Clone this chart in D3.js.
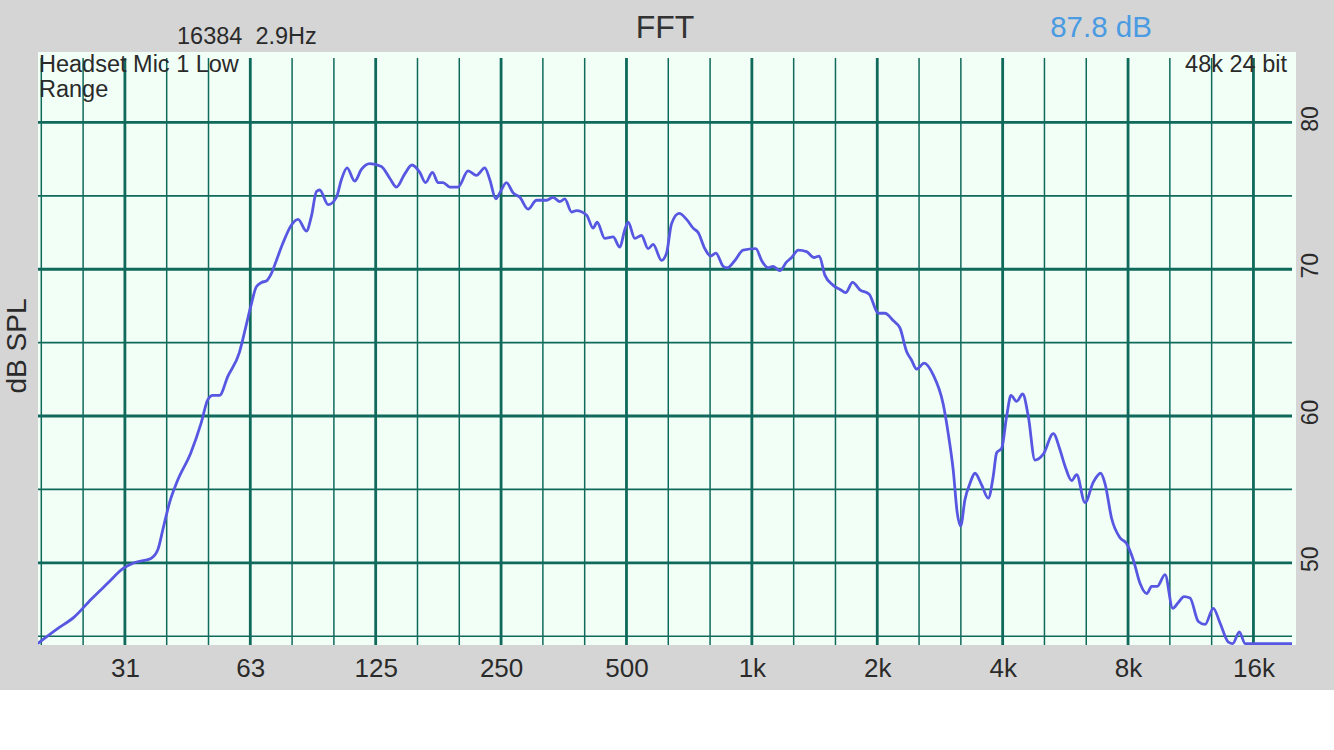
<!DOCTYPE html>
<html>
<head>
<meta charset="utf-8">
<script src="https://cdn.jsdelivr.net/npm/d3@7"></script>
<style>
  html, body { margin: 0; padding: 0; background: #ffffff; }
  svg { display: block; }
  text { font-family: "Liberation Sans", Arial, Helvetica, sans-serif; }
</style>
</head>
<body>
<svg id="chart" width="1334" height="750"></svg>
<script>
// ---- data ----
const freqHz = [19.3, 21.5, 23.6, 25.9, 28.4, 30.9, 32.9, 36.1, 37.5, 38.5,
  40.0, 41.8, 45.0, 47.6, 49.4, 50.8, 52.7, 55.2, 58.8, 61.0,
  62.7, 64.6, 66.5, 68.3, 70.2, 72.2, 74.9, 78.4, 81.4, 85.2,
  87.6, 90.1, 91.7, 96.1, 100.6, 103.4, 106.7, 111.3, 115.5, 121.0,
  129.0, 135.1, 140.2, 146.8, 152.8, 159.5, 164.6, 171.1, 176.5, 181.4,
  188.3, 197.1, 208.3, 218.2, 228.5, 234.9, 242.8, 248.2, 257.6, 267.2,
  277.3, 290.3, 304.1, 321.4, 333.3, 345.9, 355.6, 369.0, 379.3, 400.9,
  415.8, 425.1, 443.6, 464.4, 482, 495.4, 504.6, 523.7, 543.4, 563.6,
  579.4, 606.9, 624.0, 641.4, 669.0, 696.9, 722.9, 743.1, 771.1, 795.9,
  819.6, 853.3, 872.4, 910.4, 953.0, 1022, 1055, 1094, 1125, 1167,
  1212, 1246, 1292, 1353, 1409, 1451, 1497, 1568, 1633, 1679,
  1745, 1817, 1913, 2011, 2086, 2184, 2267, 2352, 2418, 2486,
  2593, 2725, 2880, 2961, 3044, 3112, 3171, 3247, 3338, 3432,
  3562, 3694, 3797, 3869, 3978, 4090, 4188, 4322, 4468, 4608,
  4782, 5007, 5292, 5491, 5645, 5858, 6022, 6306, 6602, 6877,
  7043, 7309, 7652, 7940, 8236, 8546, 8870, 9118, 9404, 9814,
  10242, 10562, 10902, 11269, 11798, 12243, 12818, 13302, 13926, 14270,
  14800, 15274, 15990, 19808];

const levelDb = [44.5, 45.5, 46.3, 47.5, 48.6, 49.6, 50.0, 50.3, 50.9, 52.2,
  54.1, 55.6, 57.5, 59.5, 61.1, 61.4, 61.4, 62.7, 64.3, 66.1,
  67.5, 68.8, 69.1, 69.2, 69.7, 70.6, 71.8, 73.0, 73.4, 72.6,
  73.6, 75.3, 75.4, 74.4, 74.9, 76.1, 76.9, 76.0, 76.8, 77.2,
  77.0, 76.2, 75.6, 76.5, 77.1, 76.6, 75.9, 76.6, 75.9, 75.9,
  75.6, 75.6, 76.7, 76.4, 76.9, 76.1, 74.8, 75.2, 75.9, 75.2,
  74.9, 74.1, 74.7, 74.7, 74.9, 74.6, 74.8, 73.9, 74.0, 73.7,
  72.8, 73.2, 72.1, 72.2, 71.5, 72.7, 73.2, 72.1, 72.3, 71.4,
  71.7, 70.6, 71.1, 73.1, 73.8, 73.4, 72.8, 72.5, 71.4, 70.9,
  71.1, 70.2, 70.1, 70.6, 71.3, 71.4, 70.6, 70.1, 70.2, 69.9,
  70.5, 70.8, 71.3, 71.2, 70.8, 70.9, 69.6, 68.9, 68.6, 68.4,
  69.1, 68.6, 68.3, 67.0, 67.0, 66.5, 66.0, 64.4, 63.8, 63.2,
  63.6, 62.8, 60.8, 58.8, 56.3, 53.4, 52.5, 54.3, 55.4, 56.1,
  55.3, 54.4, 55.9, 57.5, 57.8, 60.0, 61.4, 61.0, 61.5, 60.0,
  57.0, 57.4, 58.8, 57.7, 56.6, 55.6, 56.0, 54.1, 55.5, 56.1,
  55.4, 53.0, 51.7, 51.3, 50.2, 48.6, 47.9, 48.4, 48.4, 49.2,
  46.9, 47.3, 47.7, 47.6, 46.0, 45.8, 46.9, 45.9, 44.6, 44.5,
  45.3, 44.5, 44.5, 44.5];

const xTickValues = [31.25, 62.5, 125, 250, 500, 1000, 2000, 4000, 8000, 16000];
const xTickLabels = ["31", "63", "125", "250", "500", "1k", "2k", "4k", "8k", "16k"];
const yMajorTicks = [50, 60, 70, 80];
const yMinorTicks = [45, 55, 65, 75];
const thirdOctaveSteps = d3.range(-17, 13); // 1000 * 2^(k/3)

const titleText = "FFT";
const fftInfoText = "16384  2.9Hz";
const levelText = "87.8 dB";
const deviceLines = ["Headset Mic 1 Low", "Range"];
const formatText = "48k 24 bit";
const yAxisTitle = "dB SPL";

// ---- layout ----
const W = 1334, H = 750;
const plot = { left: 38, right: 1296, top: 52, bottom: 645 };
const gridRight = 1292;
const vLineTop = 58;
const textColor = "#2a2a2a";

const x = d3.scaleLog().domain([19.33, 19800]).range([plot.left, gridRight]);
const y = d3.scaleLinear().domain([44.4, 84.8]).range([plot.bottom, plot.top]);

const gridColor = "#0f6a5b";
const svg = d3.select("#chart");

svg.append("rect").attr("x", 0).attr("y", 0).attr("width", W).attr("height", H).attr("fill", "#ffffff");
svg.append("rect").attr("x", 0).attr("y", 0).attr("width", W).attr("height", 690).attr("fill", "#d5d5d5");
svg.append("rect").attr("x", plot.left).attr("y", plot.top)
  .attr("width", plot.right - plot.left).attr("height", plot.bottom - plot.top)
  .attr("fill", "#f2fff7");

// vertical grid (1/3 octave)
const vGrid = svg.append("g");
thirdOctaveSteps.forEach(k => {
  const f = 1000 * Math.pow(2, k / 3);
  const major = ((k % 3) + 3) % 3 === 0;
  vGrid.append("line")
    .attr("x1", x(f)).attr("x2", x(f))
    .attr("y1", vLineTop).attr("y2", plot.bottom)
    .attr("stroke", gridColor)
    .attr("stroke-width", major ? 2.8 : 1.5);
});

// horizontal grid
const hGrid = svg.append("g");
yMajorTicks.concat(yMinorTicks).forEach(v => {
  const major = yMajorTicks.includes(v);
  hGrid.append("line")
    .attr("x1", plot.left).attr("x2", gridRight)
    .attr("y1", y(v)).attr("y2", y(v))
    .attr("stroke", gridColor)
    .attr("stroke-width", major ? 2.8 : 1.6);
});

// curve
const clip = svg.append("clipPath").attr("id", "plotClip");
clip.append("rect").attr("x", plot.left).attr("y", plot.top)
  .attr("width", gridRight - plot.left).attr("height", plot.bottom - plot.top);

const data = d3.zip(freqHz, levelDb);
const line = d3.line()
  .x(d => x(d[0]))
  .y(d => y(d[1]))
  .curve(d3.curveMonotoneX);

svg.append("path")
  .datum(data)
  .attr("clip-path", "url(#plotClip)")
  .attr("d", line)
  .attr("fill", "none")
  .attr("stroke", "#5757e2")
  .attr("stroke-width", 2.8)
  .attr("stroke-linejoin", "round");

// x axis labels
const xAxis = d3.axisBottom(x)
  .tickValues(xTickValues)
  .tickFormat((d, i) => xTickLabels[i])
  .tickSize(0);
const gx = svg.append("g").attr("transform", `translate(0,${plot.bottom})`).call(xAxis);
gx.select(".domain").remove();
gx.selectAll("text")
  .attr("y", 32).attr("dy", 0)
  .attr("fill", textColor)
  .style("font-size", "26px")
  .style("font-family", "'Liberation Sans', Arial, sans-serif");

// y axis labels (right, rotated)
const yAxis = d3.axisRight(y).tickValues(yMajorTicks).tickSize(0).tickFormat(d3.format("d"));
const gy = svg.append("g").attr("transform", `translate(${plot.right},0)`).call(yAxis);
gy.select(".domain").remove();
gy.selectAll(".tick text")
  .attr("x", 0).attr("y", 0).attr("dy", 0)
  .attr("text-anchor", "middle")
  .attr("transform", "translate(22,-4) rotate(-90)")
  .attr("fill", textColor)
  .style("font-size", "23px")
  .style("font-family", "'Liberation Sans', Arial, sans-serif");

// texts
svg.append("text").attr("x", 665).attr("y", 38).attr("text-anchor", "middle")
  .attr("fill", "#333").style("font-size", "32px").text(titleText);

svg.append("text").attr("x", 177).attr("y", 44)
  .attr("fill", textColor).style("font-size", "23.5px").style("white-space", "pre")
  .attr("xml:space", "preserve").text(fftInfoText);

svg.append("text").attr("x", 1101).attr("y", 37).attr("text-anchor", "middle")
  .attr("fill", "#4a9be2").style("font-size", "29.5px").text(levelText);

deviceLines.forEach((t, i) => {
  svg.append("text").attr("x", 39).attr("y", 72 + i * 25)
    .attr("fill", textColor).style("font-size", "23.5px").text(t);
});

svg.append("text").attr("x", 1287).attr("y", 72).attr("text-anchor", "end")
  .attr("fill", textColor).style("font-size", "23.5px").text(formatText);

svg.append("text").attr("transform", "translate(26,346) rotate(-90)")
  .attr("text-anchor", "middle").attr("fill", textColor)
  .style("font-size", "28px").text(yAxisTitle);
</script>
</body>
</html>
